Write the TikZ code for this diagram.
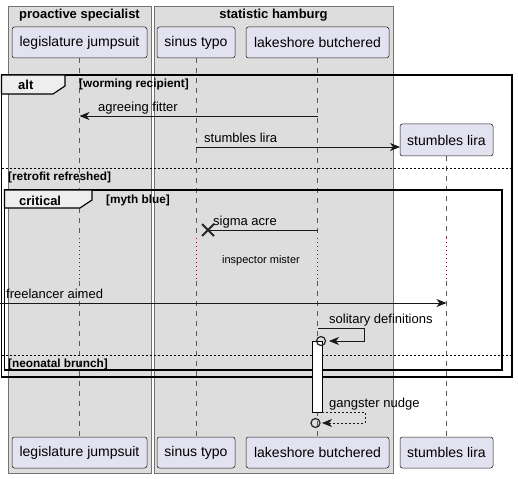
\documentclass[tikz,border=0pt]{standalone}
\usepackage{fontspec}
\setmainfont{Liberation Sans}
\usetikzlibrary{arrows.meta,calc}
\definecolor{partfill}{HTML}{E2E2F0}
\definecolor{partdraw}{HTML}{181818}
\definecolor{grpfill}{HTML}{DDDDDD}
\definecolor{tabfill}{HTML}{EEEEEE}
\definecolor{delayred}{HTML}{A80036}
\begin{document}
\begin{tikzpicture}[x=1pt,y=-1pt,
  grp/.style={fill=grpfill,draw=black!55,line width=0.7pt},
  grptitle/.style={font=\fontsize{13}{15}\selectfont\bfseries,anchor=base,inner sep=0pt},
  part/.style={fill=partfill,draw=partdraw,line width=0.5pt,rounded corners=2.5pt,
    font=\fontsize{14}{16}\selectfont,minimum height=31pt,inner sep=0pt},
  life/.style={draw=black!65,line width=0.6pt,dash pattern=on 5pt off 5pt},
  delay/.style={draw=delayred,line width=0.9pt,dash pattern=on 1pt off 3pt},
  frm/.style={draw=black,line width=1.5pt},
  tabbox/.style={fill=tabfill,draw=black,line width=1.2pt},
  tabtxt/.style={font=\fontsize{13}{15}\selectfont\bfseries,anchor=base west,inner sep=0pt},
  guard/.style={font=\fontsize{11.8}{13}\selectfont\bfseries,anchor=base west,inner sep=0pt},
  lbl/.style={font=\fontsize{13}{15}\selectfont,anchor=base west,inner sep=0pt},
  sep/.style={draw=black,line width=0.8pt,dash pattern=on 2pt off 2pt},
  msg/.style={draw=black!90,line width=0.9pt,-{Stealth[length=10pt,width=8pt,inset=3pt]}},
  rmsg/.style={msg,dash pattern=on 2pt off 2pt},
  actbar/.style={fill=white,draw=black,line width=1pt},
  endcirc/.style={draw=black!85,line width=1.2pt}
]
\useasboundingbox (0,0) rectangle (518,478);
\fill[white] (0,0) rectangle (518,478);

% groups
\draw[grp] (8,6) rectangle (151,473);
\draw[grp] (154,6) rectangle (393,473);
\node[grptitle] (g1) at (79.5,19) {proactive specialist};
\node[grptitle] (g2) at (273.5,19) {statistic hamburg};

% lifeline coordinates
\coordinate (ljA) at (79.5,58);   \coordinate (ljB) at (79.5,238);
\coordinate (ljC) at (79.5,281);  \coordinate (ljD) at (79.5,437);
\coordinate (stA) at (196,58);    \coordinate (stB) at (196,238);
\coordinate (stC) at (196,281);   \coordinate (stD) at (196,437);
\coordinate (lbA) at (317.5,58);  \coordinate (lbB) at (317.5,238);
\coordinate (lbC) at (317.5,281); \coordinate (lbD) at (317.5,437);
\coordinate (slA) at (446.5,156); \coordinate (slB) at (446.5,238);
\coordinate (slC) at (446.5,281); \coordinate (slD) at (446.5,437);

\foreach \p in {lj,st,lb,sl}{
  \draw[life] (\p A) -- (\p B);
  \draw[delay] (\p B) -- (\p C);
  \draw[life] (\p C) -- (\p D);
}

% alt frame
\draw[frm] (1.5,75) rectangle (512,377);
\draw[tabbox] (1.5,75) -- (65,75) -- (65,86) -- (53,94) -- (1.5,94) -- cycle;
\node[tabtxt] (altt) at (18,90) {alt};
\node[guard] (gd1) at (79,88) {[worming recipient]};
\draw[sep] (1.5,168) -- (512,168);
\node[guard] (gd2) at (8,180) {[retrofit refreshed]};
\draw[sep] (1.5,355) -- (512,355);
\node[guard] (gd4) at (8,367) {[neonatal brunch]};

% critical frame
\draw[frm] (4.5,190) rectangle (502,370);
\draw[tabbox] (4.5,190) -- (92,190) -- (92,200) -- (80,208) -- (4.5,208) -- cycle;
\node[tabtxt] (crit) at (19,205) {critical};
\node[guard] (gd3) at (106,203) {[myth blue]};

% messages
\coordinate (m1s) at (317.5,116); \coordinate (m1e) at (79.5,116);
\draw[msg] (m1s) -- (m1e);
\node[lbl] (l1) at (98,112) {agreeing fitter};

\coordinate (m2s) at (196,147); \coordinate (m2e) at (400,147);
\draw[msg] (m2s) -- (m2e);
\node[lbl] (l2) at (204,143) {stumbles lira};

\coordinate (m3s) at (317.5,230); \coordinate (xx) at (208,230);
\draw[draw=black!90,line width=0.9pt] (m3s) -- (xx);
\draw[draw=black!85,line width=2pt] ($(xx)+(-6,-6)$) -- ($(xx)+(6,6)$) ($(xx)+(-6,6)$) -- ($(xx)+(6,-6)$);
\node[lbl] (l3) at (213,225) {sigma acre};

\node[font=\fontsize{11}{13}\selectfont,inner sep=0pt] (dl) at (261,261) {inspector mister};

\coordinate (m4s) at (0,303); \coordinate (m4e) at (446.5,303);
\draw[msg] (m4s) -- (m4e);
\node[lbl] (l4) at (6,298) {freelancer aimed};

% activation bar
\draw[actbar] (312,341) rectangle (322,412);

\coordinate (m5s) at (317.5,328); \coordinate (m5e) at (329,341);
\draw[msg] (m5s) -- (364,328) -- (364,341) -- (m5e);
\draw[endcirc] (321,341) circle (4.5pt);
\node[lbl] (l5) at (329,323) {solitary definitions};

\coordinate (m6s) at (322,412); \coordinate (m6e) at (322,423);
\draw[rmsg] (m6s) -- (365,412) -- (365,423) -- (m6e);
\draw[endcirc] (315.5,423) circle (4.5pt);
\node[lbl] (l6) at (329,407) {gangster nudge};

% participants
\node[part,minimum width=135pt] (ljT) at (79.5,42.5) {legislature jumpsuit};
\node[part,minimum width=78pt] (stT) at (196,42.5) {sinus typo};
\node[part,minimum width=143pt] (lbT) at (317.5,42.5) {lakeshore butchered};
\node[part,minimum width=93pt,minimum height=32pt] (slT) at (446.5,140) {stumbles lira};
\node[part,minimum width=135pt] (ljB) at (79.5,452.5) {legislature jumpsuit};
\node[part,minimum width=78pt] (stB) at (196,452.5) {sinus typo};
\node[part,minimum width=143pt] (lbB) at (317.5,452.5) {lakeshore butchered};
\node[part,minimum width=93pt] (slB) at (446.5,452.5) {stumbles lira};
\end{tikzpicture}
\end{document}
